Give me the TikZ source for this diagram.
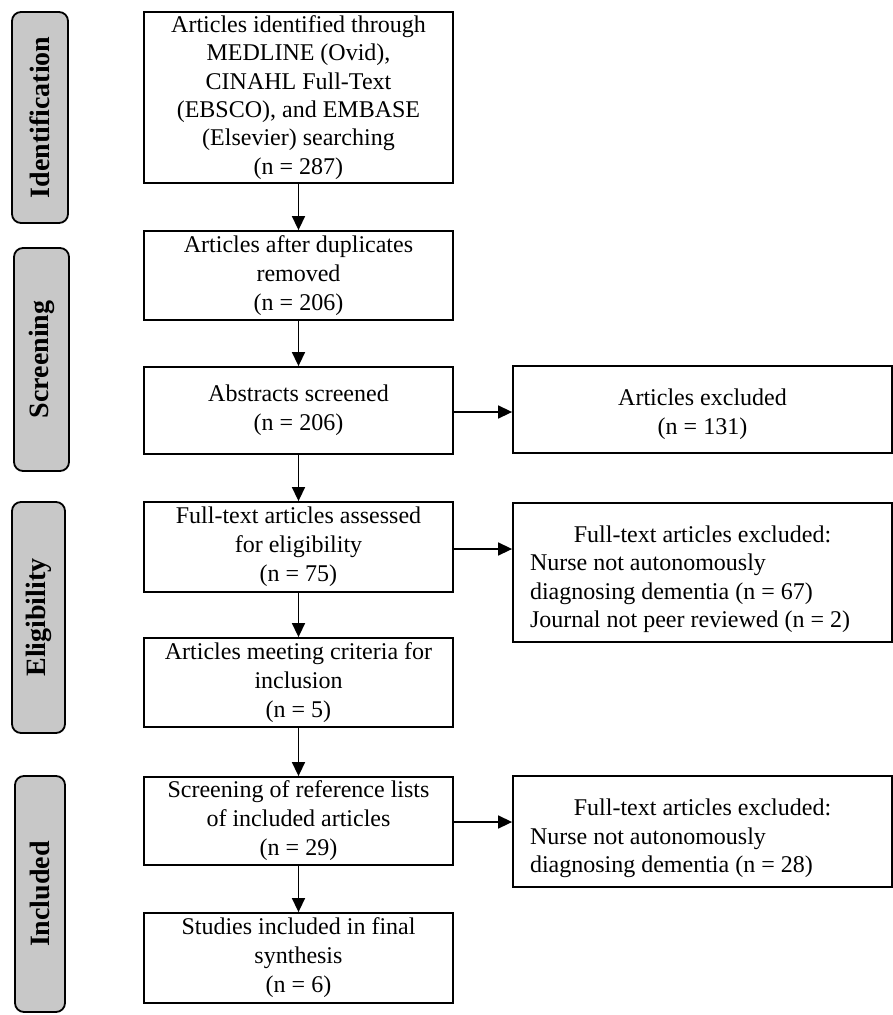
\documentclass[tikz,border=0pt]{standalone}
\usepackage{fontspec}
\setmainfont{Liberation Serif}
\usetikzlibrary{arrows.meta}
\definecolor{labgray}{RGB}{200,200,200}
\begin{document}
\begin{tikzpicture}[x=1pt,y=-1pt,
  mainbox/.style={draw, line width=1.8pt, minimum width=309pt, align=center,
    font=\fontsize{24}{29}\selectfont, inner sep=1pt},
  sidebox/.style={draw, line width=1.8pt, minimum width=379pt, inner sep=0pt,
    font=\fontsize{24}{28.5}\selectfont},
  phase/.style={draw, line width=1.8pt, fill=labgray, rounded corners=9pt, rotate=90,
    font=\fontsize{28}{30}\selectfont\bfseries, inner sep=0pt},
  arr/.style={line width=1.5pt, -{Triangle[width=13pt,length=14pt]}}
]
\useasboundingbox (0,0) rectangle (893,1015);

% phase labels
\node[phase, minimum width=211pt, minimum height=56pt] (pid) at (40,117.5) {Identification};
\node[phase, minimum width=223pt, minimum height=55pt] (pscr) at (41.5,359.5) {Screening};
\node[phase, minimum width=231pt, minimum height=53pt] (pel) at (38.5,617.5) {Eligibility};
\node[phase, minimum width=236pt, minimum height=50pt] (pin) at (40,894) {Included};

% main column
\node[mainbox, minimum height=171pt, font=\fontsize{24}{28.3}\selectfont] (b1) at (298.5,97.5)
  {Articles identified through\\MEDLINE (Ovid),\\CINAHL Full-Text\\(EBSCO), and EMBASE\\(Elsevier) searching\\(n = 287)};
\node[mainbox, minimum height=89pt] (b2) at (298.5,275.5)
  {Articles after duplicates\\removed\\(n = 206)};
\node[mainbox, minimum height=87pt] (b3) at (298.5,410.5)
  {Abstracts screened\\(n = 206)};
\node[mainbox, minimum height=90pt] (b4) at (298.5,547)
  {Full-text articles assessed\\for eligibility\\(n = 75)};
\node[mainbox, minimum height=89pt] (b5) at (298.5,682.5)
  {Articles meeting criteria for\\inclusion\\(n = 5)};
\node[mainbox, minimum height=88pt] (b6) at (298.5,821)
  {Screening of reference lists\\of included articles\\(n = 29)};
\node[mainbox, minimum height=90pt] (b7) at (298.5,958)
  {Studies included in final\\synthesis\\(n = 6)};

% right column
\node[sidebox, minimum height=87pt, align=center] (e1) at (702.5,409.5)
  {\rule{0pt}{26pt}Articles excluded\\(n = 131)};
\node[sidebox, minimum height=139pt, align=left] (e2) at (702.5,572.5)
  {\makebox[345pt][c]{\rule{0pt}{30pt}Full-text articles excluded:}\\Nurse not autonomously\\diagnosing dementia (n = 67)\\Journal not peer reviewed (n = 2)};
\node[sidebox, minimum height=111pt, align=left] (e3) at (702.5,831.5)
  {\makebox[345pt][c]{\rule{0pt}{31pt}Full-text articles excluded:}\\Nurse not autonomously\\diagnosing dementia (n = 28)};

% arrows
\draw[arr] (b1) -- (b2);
\draw[arr] (b2) -- (b3);
\draw[arr] (b3) -- (b4);
\draw[arr] (b4) -- (b5);
\draw[arr] (b5) -- (b6);
\draw[arr] (b6) -- (b7);
\draw[arr] ([yshift=-1.5pt]b3.east) -- ([yshift=-1.5pt]b3.east -| e1.west);
\draw[arr] ([yshift=-2pt]b4.east) -- ([yshift=-2pt]b4.east -| e2.west);
\draw[arr] ([yshift=-1pt]b6.east) -- ([yshift=-1pt]b6.east -| e3.west);
\end{tikzpicture}
\end{document}
